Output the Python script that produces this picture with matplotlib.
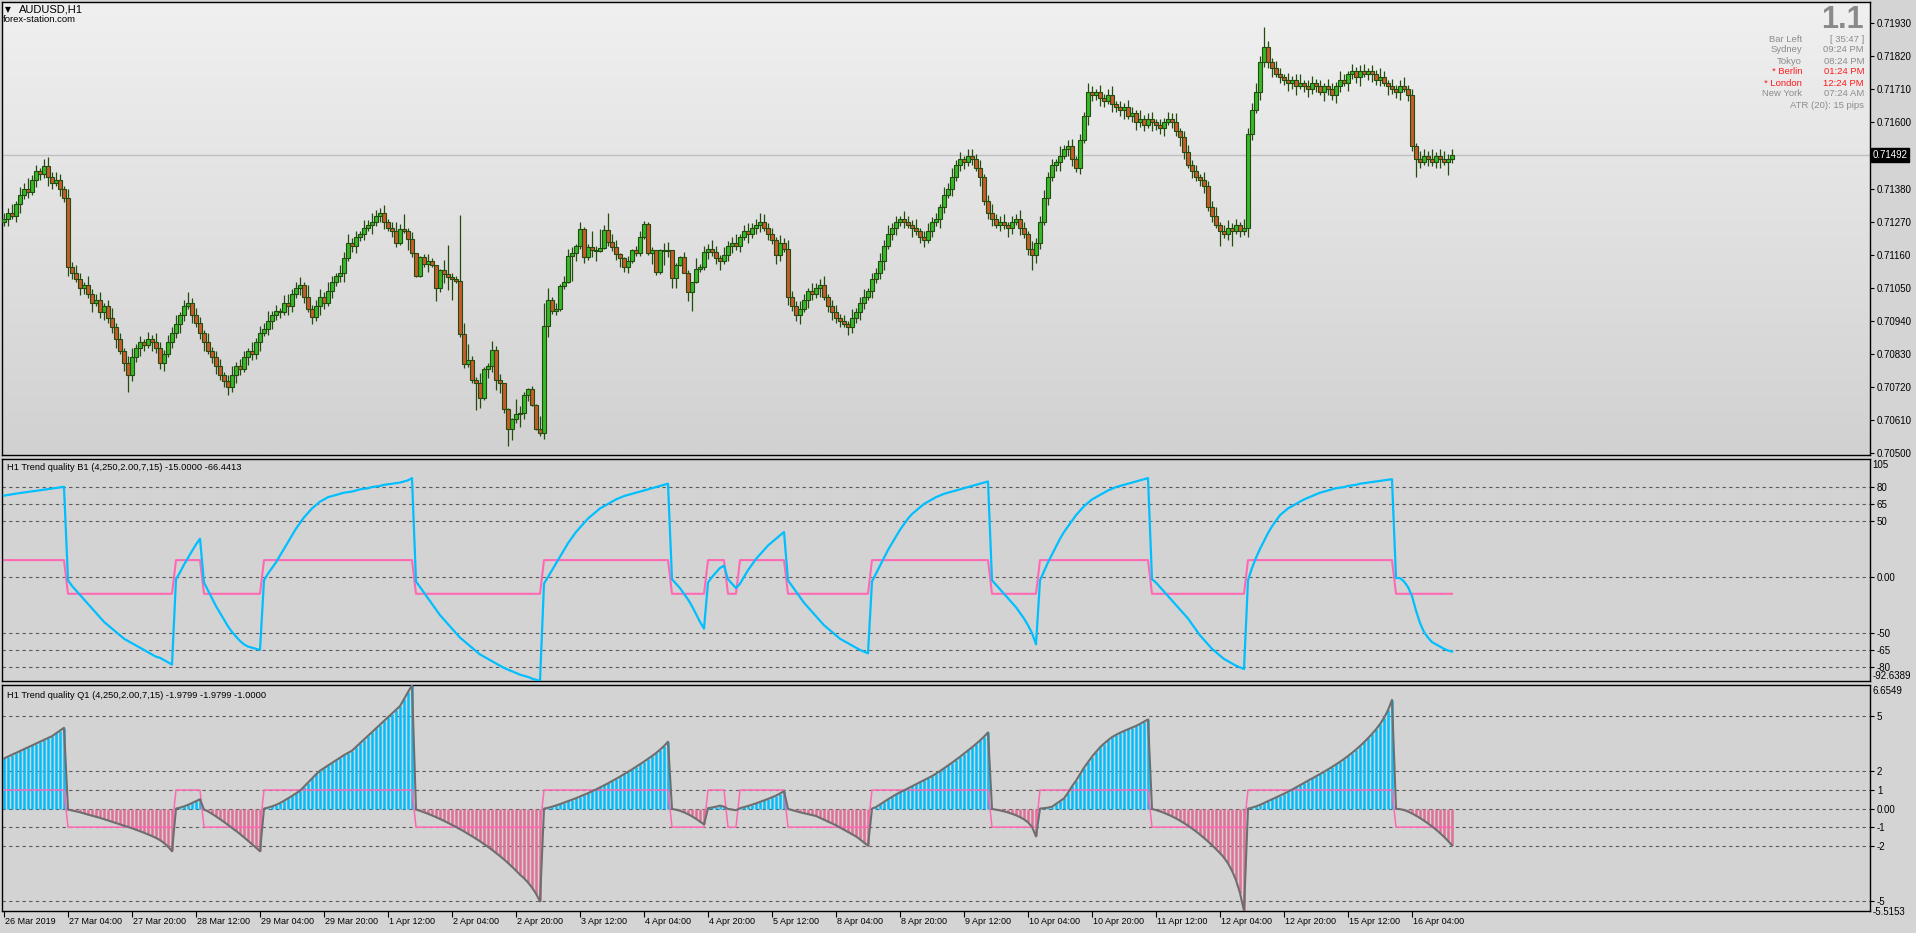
import numpy as np
import matplotlib.pyplot as plt
import matplotlib.colors as mcolors
from matplotlib.transforms import blended_transform_factory

W, H = 1916, 933
plt.rcParams['font.family'] = ['Liberation Sans', 'DejaVu Sans']

# AUDUSD H1 closes, in points above 0.70000 (open = previous close)
FIRST_OPEN = 1270
CLOSES = [
    1280, 1300, 1290, 1330, 1360, 1380, 1370, 1410, 1440, 1430,
    1455, 1420, 1400, 1410, 1380, 1350, 1120, 1100, 1080, 1050,
    1060, 1030, 1000, 1010, 970, 990, 950, 920, 880, 840,
    800, 760, 820, 850, 870, 860, 880, 870, 850, 800,
    830, 870, 900, 930, 960, 990, 1000, 960, 935, 900,
    870, 840, 820, 790, 760, 740, 720, 760, 790, 780,
    820, 840, 830, 870, 900, 915, 940, 960, 975, 970,
    1000, 990, 1030, 1050, 1060, 1020, 980, 955, 990, 1020,
    1000, 1040, 1070, 1090, 1100, 1150, 1200, 1190, 1220, 1230,
    1250, 1260, 1270, 1290, 1300, 1270, 1250, 1240, 1200, 1245,
    1238, 1212, 1165, 1091, 1152, 1128, 1141, 1126, 1049, 1110,
    1096, 1088, 1081, 1073, 896, 796, 811, 744, 733, 683,
    781, 791, 844, 744, 733, 647, 580, 614, 630, 635,
    694, 713, 661, 580, 569, 924, 1010, 975, 980, 1057,
    1070, 1156, 1165, 1190, 1245, 1154, 1185, 1176, 1174, 1182,
    1243, 1204, 1185, 1162, 1149, 1121, 1140, 1176, 1167, 1218,
    1263, 1165, 1176, 1104, 1176, 1173, 1176, 1082, 1126, 1152,
    1101, 1038, 1069, 1112, 1121, 1170, 1180, 1170, 1150, 1140,
    1160, 1190, 1200, 1190, 1220, 1240, 1230, 1250, 1260, 1270,
    1250, 1230, 1210, 1160, 1200, 1180, 1020, 990, 960, 980,
    1010, 1040, 1030, 1050, 1060, 1020, 990, 970, 950, 940,
    930, 920, 950, 970, 1000, 1020, 1040, 1080, 1100, 1140,
    1190, 1230, 1250, 1270, 1280, 1270, 1260, 1250, 1240, 1220,
    1210, 1240, 1270, 1280, 1320, 1360, 1380, 1420, 1460, 1480,
    1470, 1490, 1480, 1450, 1420, 1340, 1300, 1280, 1260, 1270,
    1260, 1250, 1270, 1280, 1250, 1230, 1180, 1160, 1200, 1270,
    1350, 1420, 1460, 1470, 1490, 1510, 1520, 1480, 1450, 1540,
    1620, 1700, 1690, 1700, 1680, 1670, 1690, 1660, 1650, 1640,
    1650, 1620, 1630, 1600, 1610, 1590, 1610, 1600, 1590, 1580,
    1600, 1610, 1600, 1570, 1550, 1500, 1460, 1440, 1420, 1410,
    1390, 1320, 1290, 1260, 1240, 1230, 1250, 1240, 1260, 1240,
    1250, 1560, 1640, 1700, 1800, 1850, 1800, 1780, 1760, 1750,
    1740, 1730, 1740, 1720, 1730, 1720, 1710, 1730, 1720, 1700,
    1720, 1710, 1690, 1720, 1740, 1730, 1760, 1770, 1750, 1770,
    1760, 1770, 1760, 1740, 1750, 1730, 1720, 1710, 1700, 1720,
    1710, 1690, 1520, 1480, 1470, 1490, 1480, 1470, 1490, 1480,
    1470, 1480, 1492,
]
UPPER_WICK = [
    20, 15, 30, 10, 25, 20, 35, 15, 20, 10, 22, 30, 15, 25, 20, 10, 30, 15, 25, 20,
    10, 30, 15, 20, 25, 10, 20, 35, 15, 20, 10, 25, 30, 15, 20, 10, 25, 15, 30, 20,
    15, 25, 20, 30, 10, 20, 35, 15, 25, 20, 10, 30, 15, 20, 25, 10, 20, 30, 15, 25,
    20, 10, 30, 15, 25, 20, 35, 15, 20, 10, 25, 30, 15, 20, 25, 10, 40, 15, 20, 25,
    15, 30, 20, 10, 25, 20, 30, 15, 20, 10, 25, 15, 30, 20, 15, 25, 10, 20, 30, 17,
    51, 10, 23, 0, 3, 11, 22, 8, 0, 4, 33, 97, 11, 9, 220, 39, 53, 14, 11, 36,
    5, 9, 30, 13, 20, 2, 3, 5, 51, 23, 9, 3, 11, 2, 44, 77, 41, 11, 19, 5,
    20, 22, 20, 6, 25, 7, 11, 54, 15, 64, 16, 57, 25, 25, 3, 5, 16, 5, 14, 21,
    11, 5, 9, 0, 2, 22, 28, 0, 8, 4, 18, 9, 2, 37, 10, 20, 15, 30, 20, 10,
    25, 15, 20, 30, 10, 20, 25, 15, 20, 30, 25, 15, 20, 10, 25, 15, 30, 20, 15, 25,
    20, 10, 25, 15, 20, 30, 10, 20, 25, 15, 20, 10, 30, 15, 20, 25, 10, 20, 15, 25,
    20, 30, 15, 20, 10, 25, 20, 15, 30, 10, 20, 25, 15, 20, 10, 25, 20, 30, 15, 20,
    10, 23, 20, 15, 25, 10, 20, 30, 15, 20, 25, 10, 20, 15, 30, 20, 10, 25, 15, 20,
    25, 15, 20, 10, 30, 15, 20, 25, 10, 20, 15, 32, 20, 10, 25, 15, 20, 30, 10, 20,
    15, 25, 20, 10, 30, 15, 20, 25, 10, 20, 15, 25, 20, 30, 10, 20, 25, 15, 20, 10,
    25, 15, 20, 30, 10, 20, 25, 15, 20, 10, 30, 20, 25, 30, 20, 68, 20, 15, 25, 20,
    10, 25, 15, 20, 30, 10, 20, 25, 15, 20, 10, 25, 20, 15, 30, 20, 10, 25, 15, 20,
    25, 10, 20, 15, 30, 20, 10, 25, 15, 20, 30, 15, 20, 10, 25, 20, 15, 30, 10, 20,
    25, 15, 20,
]
LOWER_WICK = [
    15, 25, 10, 20, 30, 15, 20, 10, 25, 20, 15, 30, 20, 10, 25, 15, 30, 20, 10, 25,
    20, 15, 30, 10, 20, 25, 15, 20, 30, 10, 25, 55, 20, 15, 25, 20, 10, 30, 15, 20,
    25, 10, 20, 15, 30, 20, 10, 25, 15, 20, 30, 10, 20, 25, 15, 20, 27, 15, 25, 20,
    10, 25, 20, 15, 30, 10, 20, 25, 15, 20, 10, 30, 20, 15, 25, 20, 10, 25, 15, 30,
    20, 10, 25, 15, 20, 30, 10, 20, 25, 15, 20, 10, 30, 15, 20, 25, 10, 20, 15, 8,
    4, 36, 13, 3, 3, 7, 24, 6, 44, 11, 31, 45, 71, 8, 8, 13, 7, 11, 88, 33,
    5, 31, 19, 33, 31, 14, 54, 35, 14, 43, 21, 18, 3, 2, 11, 22, 36, 11, 15, 6,
    9, 2, 82, 25, 10, 20, 11, 22, 33, 3, 4, 13, 12, 19, 28, 17, 20, 8, 11, 11,
    6, 5, 35, 11, 7, 47, 19, 33, 33, 2, 2, 33, 63, 2, 10, 10, 25, 15, 20, 30,
    10, 20, 25, 15, 20, 10, 30, 15, 20, 25, 10, 20, 15, 30, 20, 10, 25, 15, 20, 30,
    10, 25, 20, 15, 30, 10, 20, 25, 15, 20, 10, 25, 20, 15, 25, 20, 10, 25, 15, 20,
    30, 10, 20, 25, 15, 20, 10, 30, 15, 20, 25, 10, 20, 15, 30, 20, 10, 25, 15, 20,
    25, 15, 20, 10, 30, 15, 20, 25, 10, 20, 15, 30, 20, 10, 25, 15, 20, 50, 28, 20,
    10, 25, 15, 20, 30, 10, 20, 25, 15, 20, 10, 30, 20, 15, 25, 20, 10, 25, 15, 20,
    30, 10, 20, 25, 15, 20, 10, 30, 15, 20, 25, 10, 20, 15, 30, 20, 10, 25, 15, 20,
    25, 15, 20, 10, 50, 15, 20, 50, 10, 20, 15, 30, 20, 10, 25, 15, 20, 30, 10, 20,
    15, 25, 20, 30, 10, 20, 25, 15, 20, 10, 30, 20, 15, 25, 20, 10, 25, 15, 20, 30,
    10, 20, 25, 15, 20, 10, 30, 15, 20, 25, 10, 20, 15, 60, 20, 10, 25, 15, 20, 30,
    10, 45, 15,
]

# Trend quality B1 (blue line)
B1_LINE = [
    72.4, 73.0, 73.6, 74.1, 74.7, 75.2, 75.7, 76.2, 76.7, 77.2, 77.7, 78.2, 78.7, 79.2, 79.7, 80.3,
    -3, -8, -12, -16, -20, -24, -28, -32, -36, -40, -43, -46, -49, -52, -55, -57, -59, -61, -63, -65,
    -67, -69, -71, -72, -74, -76, -78,
    -2, 4, 11, 17, 23, 29, 34,
    -5, -12, -19, -26, -32, -38, -44, -49, -53, -57, -60, -62, -63, -64, -65,
    -3, 3, 8, 13, 19, 25, 31, 37, 43, 48, 53, 57, 61, 64, 67, 69, 71, 72, 73, 74, 75, 75.5, 76, 77,
    78, 78.5, 79, 80, 80.5, 81, 82, 82.5, 83, 83.5, 84, 85, 86, 88,
    -4, -9, -14, -19, -24, -29, -34, -38, -42, -46, -50, -54, -57, -60, -63, -66, -69, -71, -73, -75,
    -77, -79, -81, -82.5, -84, -85.5, -87, -88, -89, -90.5, -91.5, -92.6,
    -6, 0, 6, 12, 18, 24, 30, 35, 40, 44, 48, 52, 55, 58, 61, 63, 65, 67, 69, 70.5, 72, 73, 74, 75,
    76, 77, 78, 79, 80, 81, 82, 83,
    -2, -6, -10, -15, -20, -26, -33, -40, -46,
    -5, 0, 4, 8, 10,
    -2, -6, -10,
    -6, 0, 6, 11, 16, 20, 24, 28, 31, 34, 37, 40,
    -3, -8, -13, -18, -23, -27, -31, -35, -39, -43, -46, -49, -52, -55, -57, -59, -61, -63, -65, -66.5, -68,
    -4, 3, 10, 17, 24, 30, 36, 42, 47, 52, 56, 59, 62, 65, 67, 69, 71, 72.5, 74, 75, 76, 77, 78, 79,
    80, 81, 82, 83, 84, 85,
    -3, -7, -11, -15, -19, -23, -27, -32, -37, -43, -50, -60,
    -3, 5, 13, 20, 27, 34, 40, 45, 50, 55, 59, 63, 66, 69, 71, 73, 75, 77, 78.5, 80, 81, 82, 83, 84,
    85, 86, 87, 88,
    -2, -5, -9, -13, -17, -21, -25, -29, -33, -37, -42, -47, -52, -56, -60, -64, -67, -70, -73, -75,
    -77, -79, -80.5, -82,
    -3, 8, 17, 25, 32, 39, 45, 50, 55, 58, 61, 63, 65, 67, 69, 70.5, 72, 73.5, 75, 76, 77, 78, 79,
    79.5, 80, 81, 81.5, 82, 83, 83.5, 84, 84.5, 85, 85.5, 86, 86.5, 87,
    -1, -1, -4, -9, -17, -30, -41, -49, -54, -58, -60, -62, -64, -65.5, -66.4,
]

# Trend quality Q1 (histogram and grey line)
Q1_HIST = [
    2.70, 2.80, 2.90, 3.00, 3.10, 3.20, 3.30, 3.40, 3.50, 3.60, 3.70, 3.80, 3.90, 4.05, 4.20, 4.35,
    -0.05, -0.10, -0.15, -0.20, -0.26, -0.32, -0.38, -0.44, -0.50, -0.57, -0.64, -0.71, -0.78, -0.85,
    -0.92, -0.99, -1.06, -1.14, -1.22, -1.30, -1.39, -1.48, -1.58, -1.70, -1.85, -2.05, -2.30,
    0.00, 0.05, 0.12, 0.20, 0.30, 0.40, 0.50,
    -0.05, -0.15, -0.28, -0.42, -0.57, -0.72, -0.88, -1.04, -1.20, -1.37, -1.55, -1.73, -1.92, -2.10, -2.30,
    0.00, 0.05, 0.12, 0.20, 0.30, 0.42, 0.55, 0.68, 0.82, 0.96, 1.18, 1.40, 1.62, 1.84, 2.04, 2.18,
    2.32, 2.46, 2.60, 2.74, 2.88, 3.00, 3.12, 3.32, 3.52, 3.72, 3.92, 4.12, 4.32, 4.52, 4.72, 4.92,
    5.12, 5.32, 5.52, 5.90, 6.28, 6.65,
    -0.05, -0.12, -0.20, -0.28, -0.37, -0.46, -0.56, -0.66, -0.77, -0.88, -0.99, -1.11, -1.23, -1.36,
    -1.49, -1.62, -1.76, -1.91, -2.06, -2.22, -2.39, -2.56, -2.74, -2.93, -3.13, -3.34, -3.56, -3.75,
    -3.98, -4.25, -4.58, -5.00,
    0.00, 0.04, 0.10, 0.17, 0.24, 0.32, 0.40, 0.48, 0.56, 0.65, 0.74, 0.83, 0.93, 1.03, 1.14, 1.25,
    1.36, 1.48, 1.60, 1.72, 1.85, 1.98, 2.11, 2.25, 2.39, 2.53, 2.68, 2.83, 2.99, 3.17, 3.37, 3.60,
    -0.02, -0.06, -0.12, -0.20, -0.30, -0.42, -0.55, -0.70, -0.85,
    0.02, 0.06, 0.10, 0.16, 0.10,
    -0.02, -0.05, -0.09,
    0.02, 0.08, 0.14, 0.21, 0.28, 0.36, 0.44, 0.52, 0.61, 0.70, 0.81, 0.94,
    -0.02, -0.08, -0.14, -0.20, -0.25, -0.30, -0.35, -0.40, -0.50, -0.60, -0.70, -0.80, -0.90, -1.02,
    -1.14, -1.26, -1.38, -1.50, -1.66, -1.83, -2.00,
    0.00, 0.08, 0.22, 0.36, 0.50, 0.63, 0.76, 0.88, 0.98, 1.09, 1.20, 1.31, 1.42, 1.53, 1.64, 1.75,
    1.88, 2.02, 2.17, 2.32, 2.47, 2.63, 2.79, 2.96, 3.13, 3.30, 3.48, 3.67, 3.87, 4.10,
    -0.02, -0.06, -0.10, -0.15, -0.21, -0.28, -0.36, -0.46, -0.58, -0.74, -0.98, -1.50,
    0.00, 0.02, 0.05, 0.10, 0.25, 0.40, 0.55, 0.85, 1.20, 1.50, 1.85, 2.20, 2.50, 2.80, 3.05, 3.30,
    3.50, 3.68, 3.85, 3.97, 4.08, 4.18, 4.27, 4.36, 4.45, 4.56, 4.68, 4.80,
    -0.02, -0.08, -0.15, -0.23, -0.32, -0.42, -0.53, -0.65, -0.78, -0.92, -1.07, -1.23, -1.40, -1.58,
    -1.77, -1.97, -2.18, -2.40, -2.64, -2.95, -3.35, -3.85, -4.55, -5.51,
    0.00, 0.05, 0.12, 0.20, 0.30, 0.40, 0.50, 0.60, 0.70, 0.80, 0.91, 1.02, 1.14, 1.26, 1.38, 1.50,
    1.62, 1.74, 1.86, 1.98, 2.11, 2.24, 2.38, 2.52, 2.67, 2.83, 3.00, 3.18, 3.37, 3.57, 3.79, 4.02,
    4.27, 4.55, 4.88, 5.30, 5.85,
    -0.01, -0.03, -0.08, -0.16, -0.26, -0.38, -0.51, -0.65, -0.80, -0.96, -1.13, -1.32, -1.52, -1.74, -1.98,
]

# bars where the trend state flips (+1 up / -1 down)
TREND_CHANGES = [(0, 1), (16, -1), (43, 1), (50, -1), (65, 1), (103, -1), (135, 1), (167, -1),
                 (176, 1), (181, -1), (184, 1), (196, -1), (217, 1), (247, -1), (259, 1),
                 (287, -1), (311, 1), (348, -1)]

X_LABELS = ['26 Mar 2019', '27 Mar 04:00', '27 Mar 20:00', '28 Mar 12:00', '29 Mar 04:00',
            '29 Mar 20:00', '1 Apr 12:00', '2 Apr 04:00', '2 Apr 20:00', '3 Apr 12:00',
            '4 Apr 04:00', '4 Apr 20:00', '5 Apr 12:00', '8 Apr 04:00', '8 Apr 20:00',
            '9 Apr 12:00', '10 Apr 04:00', '10 Apr 20:00', '11 Apr 12:00', '12 Apr 04:00',
            '12 Apr 20:00', '15 Apr 12:00', '16 Apr 04:00']
PRICE_TICKS = [0.71930, 0.71820, 0.71710, 0.71600, 0.71380, 0.71270, 0.71160, 0.71050,
               0.70940, 0.70830, 0.70720, 0.70610, 0.70500]
LAST_PRICE = 0.71492
B1_LEVELS = [80, 65, 50, 0, -50, -65, -80]
Q1_LEVELS = [5, 2, 1, 0, -1, -2, -5]

n = len(CLOSES)
for name, arr in [('UPPER_WICK', UPPER_WICK), ('LOWER_WICK', LOWER_WICK),
                  ('B1_LINE', B1_LINE), ('Q1_HIST', Q1_HIST)]:
    if len(arr) != n:
        raise ValueError(f'{name} has {len(arr)} values, expected {n}')

x = np.arange(n)
closes = 0.7 + np.array(CLOSES) / 1e5
opens = np.concatenate([[0.7 + FIRST_OPEN / 1e5], closes[:-1]])
highs = np.maximum(opens, closes) + np.array(UPPER_WICK) / 1e5
lows = np.minimum(opens, closes) - np.array(LOWER_WICK) / 1e5

state = np.zeros(n)
for start, s in TREND_CHANGES:
    state[start:] = s
b1 = np.array(B1_LINE)
q1 = np.array(Q1_HIST)

BG = '#d4d4d4'
LABEL_FS = 7
fig = plt.figure(figsize=(W / 100, H / 100), dpi=100, facecolor=BG)


def panel(y0, y1):
    ax = fig.add_axes([2 / W, 1 - y1 / H, 1868 / W, (y1 - y0) / H])
    ax.set_facecolor('#d3d3d3')
    ax.set_xlim(-0.5, 466.5)
    for sp in ax.spines.values():
        sp.set_color('black')
        sp.set_linewidth(1)
    ax.yaxis.tick_right()
    ax.tick_params(axis='y', direction='out', length=3, width=0.8, pad=2,
                   labelsize=LABEL_FS, colors='black')
    ax.set_xticks([])
    return ax


ax_top = panel(2, 455)
ax_mid = panel(459, 681)
ax_bot = panel(685, 911)

# ---- price panel
ymin, ymax = 0.70495, 0.72000
ax_top.set_ylim(ymin, ymax)
grad = np.linspace(0, 1, 256).reshape(-1, 1)
cmap = mcolors.LinearSegmentedColormap.from_list('bg', ['#f0f0f0', '#d1d1d1'])
ax_top.imshow(grad, cmap=cmap, aspect='auto', extent=[-0.5, 466.5, ymin, ymax],
              origin='upper', zorder=0)
ax_top.axhline(LAST_PRICE, color='#c0c0c0', lw=1, zorder=1)

wick_col = '#234d0e'
ax_top.vlines(x, lows, highs, color=wick_col, lw=0.9, zorder=2)
bull = closes >= opens
body_h = np.maximum(np.abs(closes - opens), 0.000012)
ax_top.bar(x[bull], body_h[bull], bottom=np.minimum(opens, closes)[bull], width=0.8,
           color='#36b82a', edgecolor=wick_col, linewidth=0.8, zorder=3)
ax_top.bar(x[~bull], body_h[~bull], bottom=np.minimum(opens, closes)[~bull], width=0.8,
           color='#c95a2c', edgecolor=wick_col, linewidth=0.8, zorder=3)

ax_top.set_yticks(PRICE_TICKS)
ax_top.set_yticklabels([f'{p:.5f}' for p in PRICE_TICKS])
tr = blended_transform_factory(ax_top.transAxes, ax_top.transData)
ax_top.text(1.0012, LAST_PRICE, f'{LAST_PRICE:.5f}', transform=tr, color='white',
            fontsize=LABEL_FS, va='center', ha='left',
            bbox=dict(facecolor='black', edgecolor='black', pad=1.2))

# ---- B1 panel
ax_mid.set_ylim(-92.6389, 105)
for lv in B1_LEVELS:
    ax_mid.axhline(lv, color='#5a5a5a', lw=0.8, ls=(0, (3, 3)), zorder=1)
ax_mid.plot(x, state * 15, color='#ff69b4', lw=1.5, zorder=2)
ax_mid.plot(x, b1, color='#00bfff', lw=1.6, zorder=3)
ax_mid.set_yticks(B1_LEVELS)
ax_mid.set_yticklabels(['80', '65', '50', '0.00', '-50', '-65', '-80'])
trm = blended_transform_factory(ax_mid.transAxes, ax_mid.transData)
ax_mid.text(1.0015, 104, '105', transform=trm, fontsize=LABEL_FS, va='top', ha='left')
ax_mid.text(1.0015, -92.8, '-92.6389', transform=trm, fontsize=LABEL_FS, va='bottom', ha='left')

# ---- Q1 panel
ax_bot.set_ylim(-5.5153, 6.6549)
for lv in Q1_LEVELS:
    ax_bot.axhline(lv, color='#5a5a5a', lw=0.8, ls=(0, (3, 3)), zorder=1)
cols = np.where(q1 > 0, '#00bfff', '#df7096')
ax_bot.vlines(x, 0, q1, colors=cols, lw=1.8, zorder=2)
ax_bot.plot(x, state, color='#ff69b4', lw=1.1, zorder=3)
ax_bot.plot(x, q1, color='#6e6e6e', lw=1.5, zorder=4)
ax_bot.set_yticks(Q1_LEVELS)
ax_bot.set_yticklabels(['5', '2', '1', '0.00', '-1', '-2', '-5'])
trb = blended_transform_factory(ax_bot.transAxes, ax_bot.transData)
ax_bot.text(1.0015, 6.6, '6.6549', transform=trb, fontsize=LABEL_FS, va='top', ha='left')
fig.text(1873 / W, 1 - 912 / H, '-5.5153', fontsize=LABEL_FS, va='center', ha='left')

# time axis
tick_bars = np.arange(len(X_LABELS)) * 16
ax_bot.set_xticks(tick_bars)
ax_bot.set_xticklabels([''] * len(tick_bars))
ax_bot.tick_params(axis='x', direction='out', length=4, width=0.8, colors='black')
for b, lab in zip(tick_bars, X_LABELS):
    fig.text((5 + 4 * b) / W, 1 - 922 / H, lab, fontsize=6.5, ha='left', va='center')

# ---- header texts
fig.text(5 / W, 1 - 10 / H, '\u25bc', fontsize=5.5, family='DejaVu Sans', va='center')
fig.text(19 / W, 1 - 10 / H, 'AUDUSD,H1', fontsize=8, va='center')
fig.text(3 / W, 1 - 19 / H, 'forex-station.com', fontsize=6.8, va='center')
fig.text(7 / W, 1 - 468 / H, 'H1 Trend quality B1 (4,250,2.00,7,15) -15.0000 -66.4413',
         fontsize=6.7, va='center')
fig.text(7 / W, 1 - 695 / H, 'H1 Trend quality Q1 (4,250,2.00,7,15) -1.9799 -1.9799 -1.0000',
         fontsize=6.7, va='center')

# ---- session info box
fig.text(1864 / W, 1 - 20 / H, '1.1', fontsize=22, fontweight='bold', color='#8a8a8a',
         ha='right', va='center')
INFO_ROWS = [('Bar Left', '[ 35:47 ]', '#8c8c8c'), ('Sydney', '09:24 PM', '#8c8c8c'),
             ('Tokyo', '08:24 PM', '#8c8c8c'), ('* Berlin', '01:24 PM', '#ff1a1a'),
             ('* London', '12:24 PM', '#ff1a1a'), ('New York', '07:24 AM', '#8c8c8c')]
for i, (lab, val, col) in enumerate(INFO_ROWS):
    yy = 1 - (39 + 11 * i) / H
    fig.text(1802 / W, yy, lab, fontsize=6.8, color=col, ha='right', va='center')
    fig.text(1864 / W, yy, val, fontsize=6.8, color=col, ha='right', va='center')
fig.text(1864 / W, 1 - 105 / H, 'ATR (20): 15 pips', fontsize=6.8, color='#8c8c8c',
         ha='right', va='center')

fig.savefig('out.png', dpi=100, facecolor=BG)
